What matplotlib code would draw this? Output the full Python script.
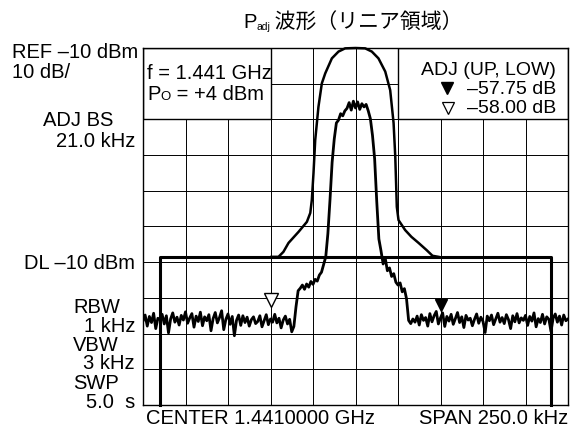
import numpy as np
import matplotlib
matplotlib.use('Agg')
import matplotlib.pyplot as plt
from matplotlib.patches import Rectangle

# 周波数オフセット (kHz), CENTER 1.441 GHz, SPAN 250 kHz
span_lo, span_hi = -125, 125
ref_dbm, bottom_dbm = -10, -110

# 測定トレース (dBm), 1.25 kHz 間隔で読み取り
trace_floor_low = [
    -86.5, -84.8, -87.9, -85.2, -86.9, -84.3, -88.6, -85.7, -86.1, -84.6,
    -87.3, -85.0, -89.8, -85.9, -84.2, -86.8, -85.4, -87.6, -84.9, -86.2,
    -83.9, -87.1, -85.6, -84.4, -88.2, -85.1, -86.6, -84.0, -87.8, -85.3,
    -86.4, -84.7, -89.2, -85.8, -84.1, -87.0, -85.5, -83.6, -88.9, -86.0,
    -84.5, -87.4, -85.2, -90.6, -86.3, -84.8, -87.7, -85.0, -86.9, -85.4,
    -87.9, -86.1, -85.3, -87.2, -86.6, -85.0, -88.1, -86.4, -84.7, -87.5,
    -85.9, -86.8, -84.6, -87.0, -85.7, -88.4, -86.2, -85.1, -87.3, -86.0,
    -89.5, -88.0]
trace_main = [
    -82.5, -78.0, -77.3, -76.4, -77.6, -76.1, -77.0, -75.4, -76.2, -74.8,
    -75.3, -73.6, -72.8, -70.6, -68.5, -62.0, -52.5, -42.0, -35.5, -31.0,
    -30.2, -28.4, -29.0, -27.6, -26.9, -25.3, -27.4, -24.9, -26.8, -25.1,
    -27.2, -25.6, -26.5, -25.8, -27.6, -29.8, -34.5, -41.0, -53.0, -63.5,
    -66.8, -70.5, -68.9, -72.4, -71.6, -74.0, -73.2, -75.6, -76.4, -75.8,
    -78.3, -77.4, -80.2, -86.3]
trace_floor_up = [
    -87.2, -85.9, -86.8, -85.1, -87.6, -84.7, -86.3, -85.5, -87.9, -84.4,
    -86.7, -85.0, -83.8, -87.3, -85.6, -84.2, -88.0, -85.2, -86.5, -84.6,
    -87.4, -85.8, -84.1, -86.9, -85.3, -88.3, -84.9, -86.2, -85.7, -87.8,
    -86.0, -84.5, -87.1, -85.4, -86.6, -89.7, -85.1, -86.4, -84.8, -87.5,
    -85.9, -84.3, -86.8, -85.5, -87.2, -84.7, -86.1, -88.6, -85.0, -86.7,
    -84.4, -87.0, -85.6, -86.3, -84.9, -87.7, -85.2, -86.5, -84.2, -88.1,
    -85.8, -86.9, -84.6, -87.3, -85.3, -86.0, -89.4, -85.7, -84.5, -86.8,
    -85.1, -87.6, -84.8, -86.4, -85.9]

# 外側の包絡線 (kHz, dBm)
env_khz = [-49.4, -45.3, -42.4, -39.4, -33.5, -28.6, -26.6, -25.7, -24.7, -23.7,
           -21.8, -19.8, -17.8, -13.9, -10.0, -6.1, 0.0, 5.7, 9.6, 13.5,
           17.5, 20.4, 22.4, 23.4, 24.3, 25.3, 29.2, 32.9, 37.1, 41.8,
           45.3, 48.8]
env_dbm = [-68.5, -68.5, -67.1, -64.6, -61.5, -58.7, -56.2, -52.6, -45.0, -35.8,
           -26.5, -19.9, -17.1, -12.9, -11.0, -10.1, -10.0, -10.1, -11.0, -12.9,
           -16.6, -21.8, -31.0, -40.5, -54.5, -58.2, -61.0, -62.9, -64.6, -66.6,
           -68.2, -68.5]

# 表示ライン / 隣接チャネル境界 / マーカー
dl_dbm = -68.5
adj_edge_khz = 115
marker_low = (-50, -80.5)
marker_up = (50, -82.0)

W, H = 570, 437


def fx(x):
	return x / W


def fy(y):
	return 1 - y / H


def put_run(fig, x, y, pieces):
	# 文字列を左から順に並べる (サイズ違いの下付き文字用)
	renderer = fig.canvas.get_renderer()
	for s, size, fam, dy in pieces:
		t = fig.text(fx(x), fy(y + dy), s, fontsize=size, family=fam,
					 ha='left', va='baseline')
		x = t.get_window_extent(renderer).x1


def main():
	plt.rcParams['font.family'] = ['Liberation Sans', 'DejaVu Sans']
	sans = ['Liberation Sans', 'DejaVu Sans']
	jp = ['Noto Sans CJK JP', 'DejaVu Sans']

	fig = plt.figure(figsize=(W / 100, H / 100), dpi=100)
	ax = fig.add_axes([fx(143), fy(405), 425 / W, 357 / H])

	trace = np.array(trace_floor_low + trace_main + trace_floor_up)
	freq = np.linspace(span_lo, span_hi, len(trace))

	ax.set_xlim(span_lo, span_hi)
	ax.set_ylim(bottom_dbm, ref_dbm)
	ax.set_xticks(np.arange(span_lo, span_hi + 1, 25))
	ax.set_yticks(np.arange(bottom_dbm, ref_dbm + 1, 10))
	ax.tick_params(length=0, labelbottom=False, labelleft=False)
	ax.grid(color='black', linewidth=0.7)
	for s in ax.spines.values():
		s.set_linewidth(1.0)

	# 枠 (文字表示エリア)
	ax.add_patch(Rectangle((-125, -30), 75, 20, facecolor='white',
						   edgecolor='black', linewidth=1.0, zorder=2))
	ax.add_patch(Rectangle((25, -30), 100, 20, facecolor='white',
						   edgecolor='black', linewidth=1.0, zorder=2))

	# DL ライン
	ax.plot([-adj_edge_khz, -adj_edge_khz, adj_edge_khz, adj_edge_khz],
			[bottom_dbm, dl_dbm, dl_dbm, bottom_dbm],
			color='black', linewidth=2.2, zorder=3, clip_on=False)
	ax.plot(env_khz, env_dbm, color='black', linewidth=1.8, zorder=4,
			clip_on=False, solid_joinstyle='round')
	ax.plot(freq, trace, color='black', linewidth=2.0, zorder=5,
			solid_joinstyle='round')

	ax.plot(*marker_low, marker='v', markersize=10, markerfacecolor='white',
			markeredgecolor='black', markeredgewidth=1.0, zorder=6)
	ax.plot(*marker_up, marker='v', markersize=9, color='black', zorder=6)

	# タイトル
	put_run(fig, 243, 28, [('P', 14.5, sans, 0), ('adj', 7.5, sans, 1.5),
						   (' 波形（リニア領域）', 15, jp, 0)])

	fs = 14.5
	# 左側の設定値
	fig.text(fx(12), fy(58), 'REF –10 dBm', fontsize=fs, va='baseline')
	fig.text(fx(12), fy(78), '10 dB/', fontsize=fs, va='baseline')
	fig.text(fx(43), fy(126), 'ADJ BS', fontsize=fs, va='baseline')
	fig.text(fx(135), fy(147), '21.0 kHz', fontsize=fs, va='baseline', ha='right')
	fig.text(fx(135), fy(269), 'DL –10 dBm', fontsize=fs, va='baseline', ha='right')
	fig.text(fx(73), fy(313), 'RBW', fontsize=fs, va='baseline')
	fig.text(fx(135), fy(332), '1 kHz', fontsize=fs, va='baseline', ha='right')
	fig.text(fx(73), fy(351), 'VBW', fontsize=fs, va='baseline')
	fig.text(fx(135), fy(369), '3 kHz', fontsize=fs, va='baseline', ha='right')
	fig.text(fx(73), fy(389), 'SWP', fontsize=fs, va='baseline')
	fig.text(fx(135), fy(408), '5.0  s', fontsize=fs, va='baseline', ha='right')

	# 下側
	fig.text(fx(146), fy(424), 'CENTER 1.4410000 GHz', fontsize=fs, va='baseline')
	fig.text(fx(568), fy(424), 'SPAN 250.0 kHz', fontsize=fs, va='baseline', ha='right')

	# 左上の枠
	fig.text(fx(147), fy(79), 'f = 1.441 GHz', fontsize=fs, va='baseline')
	put_run(fig, 147, 100.5, [('P', fs, sans, 0), ('O', 9.5, sans, 0),
							  (' = +4 dBm', fs, sans, 0)])

	# 右上の枠
	fr = 14
	fig.text(fx(556), fy(75), 'ADJ (UP, LOW)', fontsize=fr, va='baseline', ha='right')
	fig.text(fx(556), fy(94), '–57.75 dB', fontsize=fr, va='baseline', ha='right')
	fig.text(fx(556), fy(113), '–58.00 dB', fontsize=fr, va='baseline', ha='right')
	ax.plot([fx(447)], [fy(88)], marker='v', markersize=8.6, color='black',
			transform=fig.transFigure, clip_on=False)
	ax.plot([fx(447.5)], [fy(107.5)], marker='v', markersize=8.6,
			markerfacecolor='white', markeredgecolor='black', markeredgewidth=0.9,
			transform=fig.transFigure, clip_on=False)

	fig.savefig('out.png', dpi=100)


if __name__ == '__main__':
	main()
